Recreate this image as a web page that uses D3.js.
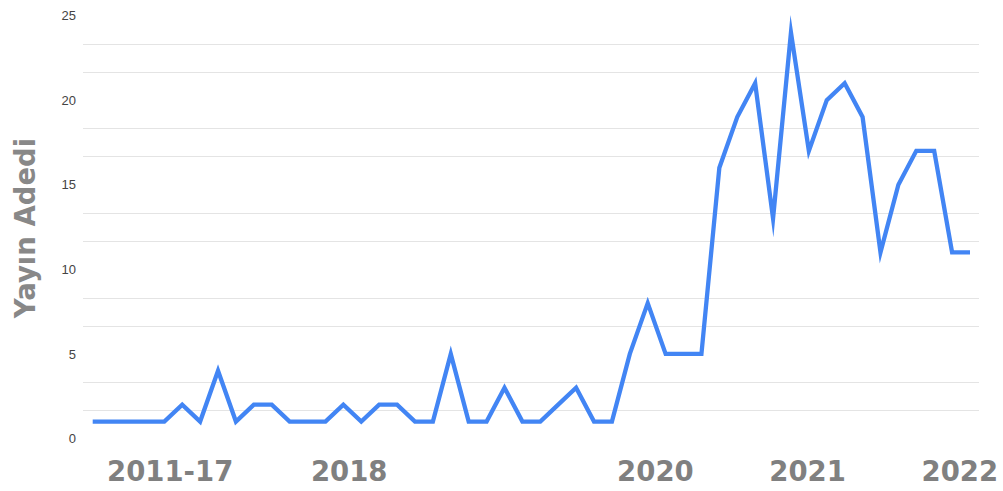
<!DOCTYPE html>
<html>
<head>
<meta charset="utf-8">
<script src="https://cdn.jsdelivr.net/npm/d3@7"></script>
<style>
    body { margin: 0; background: #fff; }
    svg { display: block; }
</style>
</head>
<body>
<div id="chart-container"></div>
<script>
// number of publications per period
var yayinAdedi = [1, 1, 1, 1, 1, 2, 1, 4, 1, 2,
                  2, 1, 1, 1, 2, 1, 2, 2, 1, 1,
                  5, 1, 1, 3, 1, 1, 2, 3, 1, 1,
                  5, 8, 5, 5, 5, 16, 19, 21, 13, 24,
                  17, 20, 21, 19, 11, 15, 17, 17, 11, 11];

// x axis labels and where they sit (in point index units)
var xLabels = ["2011-17", "2018", "2020", "2021", "2022"];
var xLabelPos = [4.3, 14.3, 31.4, 39.9, 48.4];

var yTicks = [0, 5, 10, 15, 20, 25];
// light grid lines sit between the labelled values
var gridValues = [5/3, 10/3, 20/3, 25/3, 35/3, 40/3, 50/3, 55/3, 65/3, 70/3];

function displayChart() {
    const width = 1003;
    const height = 491;

    const xScale = d3.scaleLinear()
                        .domain([0, yayinAdedi.length - 1])
                        .range([92.7, 970]);
    const yScale = d3.scaleLinear()
                        .domain([0, 25])
                        .range([438.5, 15.5]);

    var svg = d3.select("#chart-container")
        .append("svg")
        .attr("width", width)
        .attr("height", height)
        .attr("viewBox", "0 0 " + width + " " + height);

    svg.append("g")
        .selectAll("line")
        .data(gridValues)
        .enter()
        .append("line")
        .attr("x1", 83)
        .attr("x2", 979)
        .attr("y1", (d) => Math.round(yScale(d)) + 0.5)
        .attr("y2", (d) => Math.round(yScale(d)) + 0.5)
        .attr("stroke", "#e4e4e4")
        .attr("stroke-width", 1);

    const yAxis = d3.axisLeft(yScale)
                        .tickValues(yTicks)
                        .tickSize(0)
                        .tickPadding(0);

    var yAxisG = svg.append("g")
        .attr("transform", "translate(76,0)")
        .call(yAxis);
    yAxisG.select(".domain").remove();
    yAxisG.selectAll("text")
        .attr("font-family", "'Liberation Sans', Arial, sans-serif")
        .attr("font-size", 13)
        .attr("fill", "#444");

    const xAxis = d3.axisBottom(xScale)
                        .tickValues(xLabelPos)
                        .tickSize(0)
                        .tickPadding(0)
                        .tickFormat((d, i) => xLabels[i]);

    var xAxisG = svg.append("g")
        .attr("transform", "translate(0,461)")
        .call(xAxis);
    xAxisG.select(".domain").remove();
    xAxisG.selectAll("text")
        .attr("font-family", "'DejaVu Sans', sans-serif")
        .attr("font-weight", "bold")
        .attr("font-size", 27.5)
        .attr("fill", "#808080");

    svg.append("text")
        .attr("transform", "translate(35,228) rotate(-90)")
        .attr("text-anchor", "middle")
        .attr("font-family", "'DejaVu Sans', sans-serif")
        .attr("font-weight", "bold")
        .attr("font-size", 27.5)
        .attr("fill", "#888")
        .text("Yayın Adedi");

    var line = d3.line()
        .x((d, i) => xScale(i))
        .y((d) => yScale(d));

    svg.append("path")
        .datum(yayinAdedi)
        .attr("d", line)
        .attr("fill", "none")
        .attr("stroke", "#4285f4")
        .attr("stroke-width", 4.3)
        .attr("stroke-linejoin", "miter")
        .attr("stroke-miterlimit", 20);
}

displayChart();
</script>
</body>
</html>
